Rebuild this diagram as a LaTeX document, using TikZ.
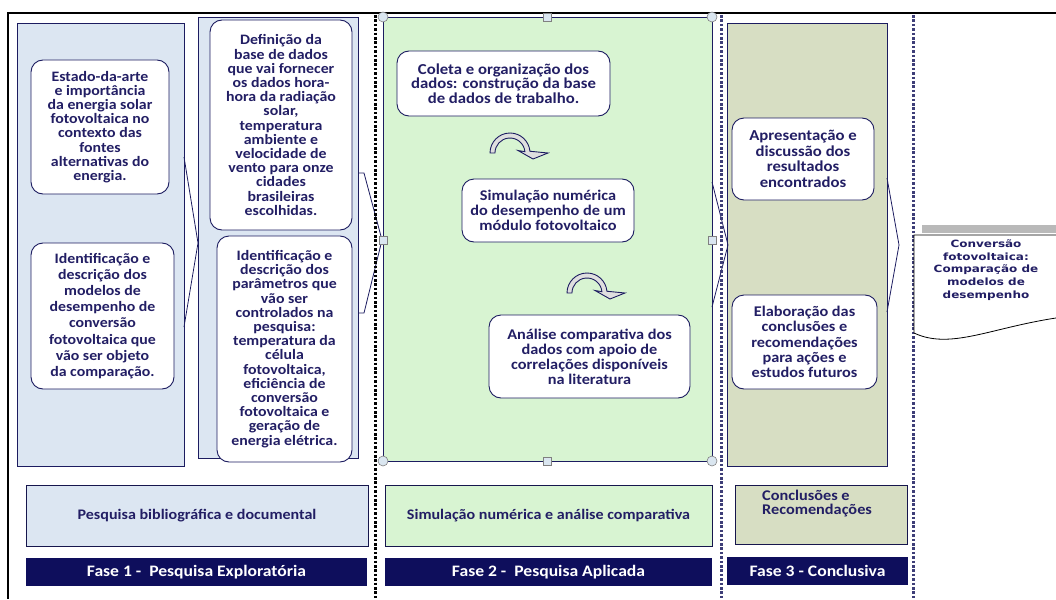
\documentclass[tikz,border=0pt]{standalone}
\usepackage{fontspec}
\setmainfont{Carlito}[FakeStretch=1.1]
\newfontfamily\docfont{DejaVu Sans}[FakeStretch=1.2]
\usetikzlibrary{positioning}

\definecolor{navy}{RGB}{28,28,96}
\definecolor{ink}{RGB}{34,30,100}
\definecolor{bluefill}{RGB}{220,230,242}
\definecolor{greenfill}{RGB}{216,244,210}
\definecolor{olivefill}{RGB}{215,222,195}
\definecolor{barblue}{RGB}{14,14,92}
\definecolor{handle}{RGB}{218,230,240}

\tikzset{
  panel/.style={draw=navy, line width=0.9pt},
  card/.style={draw=navy, fill=white, line width=0.9pt, rounded corners=12pt,
    align=center, inner sep=0pt, text=ink,
    font=\bfseries\fontsize{14.4}{14.2}\selectfont},
  botbox/.style={draw=navy!80!black, line width=0.9pt, inner sep=0pt, text=ink,
    font=\bfseries\fontsize{14.6}{14}\selectfont},
  fasebar/.style={fill=barblue, inner sep=0pt, text=white,
    font=\bfseries\fontsize{16}{16}\selectfont},
  phasesep/.style={line width=3pt, dash pattern=on 2.6pt off 1.8pt},
  chevron/.style={draw=navy, line width=0.8pt},
  turn/.style={draw=navy, line width=0.9pt, fill=gray!25},
  hnd/.style={draw=gray, fill=handle, line width=0.6pt}
}

\begin{document}
\begin{tikzpicture}[x=1pt,y=-1pt]
\useasboundingbox (0,0) rectangle (1056,599);

% frame
\draw[line width=2pt] (1056,13) -- (8,13) -- (8,599);

% phase panels
\draw[panel, fill=bluefill] (17,23) rectangle (184,466);
\draw[panel, fill=bluefill] (198,17) rectangle (358,458);
\draw[panel, fill=greenfill] (383,17) rectangle (712,461);
\draw[panel, fill=olivefill] (727,23) rectangle (887,466);

% chevrons
\draw[chevron] (184,157) -- (198,243) -- (184,327);
\draw[chevron] (358,173) -- (364,173) -- (382,240) -- (364,313) -- (358,313);
\draw[chevron] (712,182) -- (728,245) -- (712,307);
\draw[chevron] (887,178) -- (899,245) -- (887,312);

% separators
\draw[phasesep, black] (375,15) -- (375,599);
\draw[phasesep, navy!85] (721,15) -- (721,599);
\draw[phasesep, navy!85] (913,15) -- (913,599);

% selection handles
\foreach \hx/\hy in {383/17, 712/17, 383/461, 712/461}
  \draw[hnd] (\hx,\hy) circle (5);
\foreach \hx/\hy in {547/17, 383/240, 712/240, 547/461}
  \draw[hnd] (\hx-4,\hy-4) rectangle (\hx+4,\hy+4);

% fase 1
\node[card, minimum width=138, minimum height=134] (estado) at (100,127)
  {Estado-da-arte\\e importância\\da energia solar\\fotovoltaica no\\contexto das\\fontes\\alternativas do\\energia.};
\node[card, minimum width=143, minimum height=146,
  font=\bfseries\fontsize{14.4}{16.1}\selectfont] (modelos) at (102.5,316)
  {Identificação e\\descrição dos\\modelos de\\desempenho de\\conversão\\fotovoltaica que\\vão ser objeto\\da comparação.};
\node[card, minimum width=142, minimum height=210] (basedados) at (281,125)
  {Definição da\\base de dados\\que vai fornecer\\os dados hora-\\hora da radiação\\solar,\\temperatura\\ambiente e\\velocidade de\\vento para onze\\cidades\\brasileiras\\escolhidas.};
\node[card, minimum width=135, minimum height=226] (parametros) at (284.5,349)
  {Identificação e\\descrição dos\\parâmetros que\\vão ser\\controlados na\\pesquisa:\\temperatura da\\célula\\fotovoltaica,\\eficiência de\\conversão\\fotovoltaica e\\geração de\\energia elétrica.};

% fase 2
\node[card, minimum width=213, minimum height=65,
  font=\bfseries\fontsize{15.2}{14.5}\selectfont] (coleta) at (503.5,83.5)
  {Coleta e organização dos\\dados: construção da base\\de dados de trabalho.};
\node[card, minimum width=172, minimum height=63,
  font=\bfseries\fontsize{14.8}{15.2}\selectfont] (simulacao) at (548,210.5)
  {Simulação numérica\\do desempenho de um\\módulo fotovoltaico};
\node[card, minimum width=201, minimum height=83,
  font=\bfseries\fontsize{14.8}{15}\selectfont] (analise) at (589.5,356.5)
  {Análise comparativa dos\\dados com apoio de\\correlações disponíveis\\na literatura};

\foreach \cx/\cy in {510/153, 587/293}{
  \begin{scope}[shift={(\cx,\cy)}, yscale=-1]
    \filldraw[turn] (-20,0) arc[start angle=180, end angle=5, radius=20]
      -- (38,0) -- (23,-6) -- (8,2.5) -- (14.9,1.3)
      arc[start angle=5, end angle=180, radius=15] -- cycle;
  \end{scope}
}

% fase 3
\node[card, minimum width=142, minimum height=82,
  font=\bfseries\fontsize{15.2}{15.5}\selectfont] (apresentacao) at (803,159)
  {Apresentação e\\discussão dos\\resultados\\encontrados};
\node[card, minimum width=145, minimum height=94,
  font=\bfseries\fontsize{14.8}{15.3}\selectfont] (elaboracao) at (804.5,342)
  {Elaboração das\\conclusões e\\recomendações\\para ações e\\estudos futuros};

% resultado
\fill[gray!55] (922,225) rectangle (1056,233);
\draw[line width=0.8pt, fill=white] (1056,318) .. controls (990,328) and (950,350) .. (914,333)
  -- (914,235) -- (1056,235);
\node[align=center, text=ink, font=\docfont\bfseries\fontsize{10}{12.8}\selectfont] (conversao) at (986,270)
  {Conversão\\fotovoltaica:\\Comparação de\\modelos de\\desempenho};

% bottom boxes
\node[botbox, fill=bluefill, minimum width=342, minimum height=61] (pesquisa) at (197,515.5)
  {Pesquisa bibliográfica e documental};
\node[botbox, fill=greenfill, minimum width=327, minimum height=61] (simnum) at (548.5,515.5)
  {Simulação numérica e análise comparativa};
\draw[botbox, fill=olivefill] (735,485) rectangle (907,544);
\node[anchor=north west, align=left, inner sep=0pt, text=ink,
  font=\bfseries\fontsize{14.8}{14}\selectfont] (conclusoes) at (762,490)
  {Conclusões e\\Recomendações};

% fases
\node[fasebar, minimum width=341, minimum height=28] (fase1) at (196.5,572)
  {Fase 1 -\ \ Pesquisa Exploratória};
\node[fasebar, minimum width=327, minimum height=28] (fase2) at (548.5,572)
  {Fase 2 -\ \ Pesquisa Aplicada};
\node[fasebar, minimum width=181, minimum height=28] (fase3) at (817.5,571)
  {Fase 3 - Conclusiva};

\end{tikzpicture}
\end{document}
